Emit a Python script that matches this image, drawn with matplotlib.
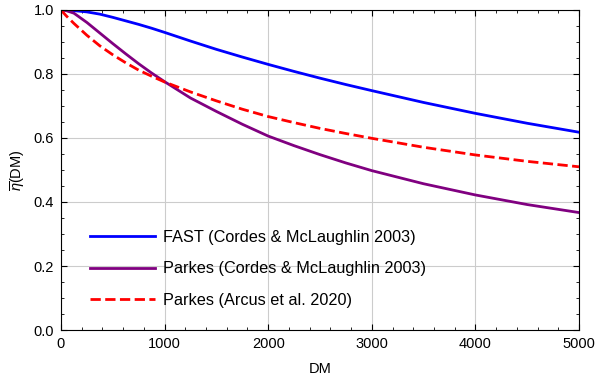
import matplotlib
matplotlib.use("Agg")
import matplotlib.pyplot as plt
from matplotlib.ticker import MultipleLocator

plt.rcParams['font.family'] = ['Liberation Sans', 'DejaVu Sans']
plt.rcParams['mathtext.fontset'] = 'custom'
plt.rcParams['mathtext.it'] = 'Liberation Sans:italic'
plt.rcParams['mathtext.rm'] = 'Liberation Sans'

# values
dm = [0, 50, 125, 250, 375, 500, 625, 750, 875, 1000, 1250, 1500, 1750, 2000,
      2250, 2500, 2750, 3000, 3500, 4000, 4500, 5000]
eta_fast_cm = [1.0, 1.0, 0.998, 0.994, 0.987, 0.977, 0.966, 0.955, 0.943, 0.930,
               0.903, 0.877, 0.853, 0.830, 0.808, 0.787, 0.767, 0.748,
               0.711, 0.677, 0.646, 0.618]
eta_parkes_cm = [1.0, 0.998, 0.990, 0.961, 0.928, 0.895, 0.863, 0.832, 0.803, 0.776,
                 0.725, 0.683, 0.643, 0.606, 0.576, 0.548, 0.522, 0.498,
                 0.457, 0.422, 0.392, 0.367]
eta_parkes_arcus = [1.0, 0.982, 0.958, 0.921, 0.888, 0.860, 0.835, 0.812, 0.793, 0.775,
                    0.744, 0.716, 0.690, 0.667, 0.648, 0.630, 0.614, 0.599,
                    0.571, 0.547, 0.527, 0.510]

fig, ax = plt.subplots(figsize=(5.96, 3.84), dpi=100)
fig.subplots_adjust(left=0.1023, right=0.9715, top=0.974, bottom=0.1406)

ax.plot(dm, eta_fast_cm, color='blue', lw=2, label='FAST (Cordes & McLaughlin 2003)')
ax.plot(dm, eta_parkes_cm, color='purple', lw=2, label='Parkes (Cordes & McLaughlin 2003)')
ax.plot(dm, eta_parkes_arcus, color='red', lw=2, ls='--',
        label='Parkes (Arcus et al. 2020)')

ax.set_xlim(0, 5000)
ax.set_ylim(0, 1.0)
ax.xaxis.set_major_locator(MultipleLocator(1000))
ax.xaxis.set_minor_locator(MultipleLocator(200))
ax.yaxis.set_major_locator(MultipleLocator(0.2))
ax.yaxis.set_minor_locator(MultipleLocator(0.05))
ax.tick_params(which='both', direction='in', top=True, right=True, labelsize=10.5)
ax.tick_params(which='major', length=4, pad=5)
ax.tick_params(which='minor', length=2.5)
ax.grid(True, which='major', color='#cccccc', lw=0.8)
ax.set_axisbelow(True)

ax.set_xlabel('DM', fontsize=10.5, labelpad=8)
ax.set_ylabel(r'$\overline{\eta}$(DM)', fontsize=10.5)

ax.legend(loc='lower left', bbox_to_anchor=(0.056, 0.07), frameon=False,
          borderpad=0, borderaxespad=0, handlelength=4.0, handletextpad=0.5,
          labelspacing=1.0, fontsize=11.7)

fig.savefig('out.png', dpi=100)
